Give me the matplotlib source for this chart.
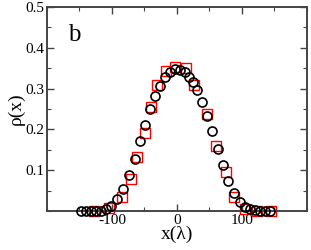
import matplotlib
matplotlib.use("Agg")
import matplotlib.pyplot as plt
from matplotlib.ticker import MultipleLocator, FixedLocator

plt.rcParams['font.family'] = ['Liberation Serif', 'DejaVu Serif']
plt.rcParams['mathtext.fontset'] = 'stix'
plt.rcParams['axes.unicode_minus'] = False

# black open circles
circ_x = [-147, -140, -132, -124, -117, -109, -101, -92, -83, -74, -64, -57, -49,
          -41, -34, -26, -18, -11, -3, 5, 12, 18, 25, 31, 38, 46, 54, 63, 71, 78,
          87, 97, 104, 112, 120, 127, 135, 143]
circ_y = [0.0, 0.0, 0.0, 0.0, 0.001, 0.005, 0.012, 0.029, 0.054, 0.088, 0.127,
          0.172, 0.211, 0.250, 0.282, 0.306, 0.328, 0.341, 0.348, 0.346, 0.341,
          0.328, 0.316, 0.297, 0.267, 0.233, 0.196, 0.152, 0.113, 0.074, 0.044,
          0.022, 0.010, 0.005, 0.002, 0.001, 0.0, 0.0]

# red open squares
sq_x = [-127, -104, -84, -71, -61, -49, -40, -31, -17, -3, 14, 26, 46, 60, 75,
        87, 104, 123, 144]
sq_y = [0.0, 0.007, 0.034, 0.078, 0.132, 0.191, 0.255, 0.309, 0.343, 0.353,
        0.350, 0.309, 0.238, 0.159, 0.096, 0.034, 0.005, 0.0, 0.0]

fig = plt.figure(figsize=(3.11, 2.5), dpi=100)
ax = fig.add_axes([0.151, 0.156, 0.836, 0.816])

ax.plot(sq_x, sq_y, linestyle='none', marker='s', markersize=7.5,
        markerfacecolor='none', markeredgecolor='red', markeredgewidth=1.0,
        clip_on=False, zorder=2)
ax.plot(circ_x, circ_y, linestyle='none', marker='o', markersize=6.5,
        markerfacecolor='none', markeredgecolor='black', markeredgewidth=1.2,
        clip_on=False, zorder=3)

ax.set_xlim(-200, 200)
ax.set_ylim(0, 0.5)
ax.xaxis.set_major_locator(FixedLocator([-100, 0, 100]))
ax.xaxis.set_minor_locator(MultipleLocator(50))
ax.yaxis.set_major_locator(FixedLocator([0.1, 0.2, 0.3, 0.4, 0.5]))
ax.yaxis.set_minor_locator(MultipleLocator(0.05))
ax.set_yticklabels(['0.1', '0.2', '0.3', '0.4', '0.5'])

for s in ax.spines.values():
    s.set_linewidth(1.4)
    s.set_color('#444444')
ax.tick_params(which='both', direction='in', top=True, right=True,
               color='#444444', labelsize=11, pad=2)
ax.tick_params(which='major', length=5, width=1.0)
ax.tick_params(which='minor', length=3, width=0.8)

ax.set_xlabel('x(λ)', fontsize=14, labelpad=-1)
ax.set_ylabel('ρ(x)', fontsize=14, labelpad=0)
ax.text(0.08, 0.835, 'b', transform=ax.transAxes, fontsize=18)

fig.savefig('out.png', dpi=100)
